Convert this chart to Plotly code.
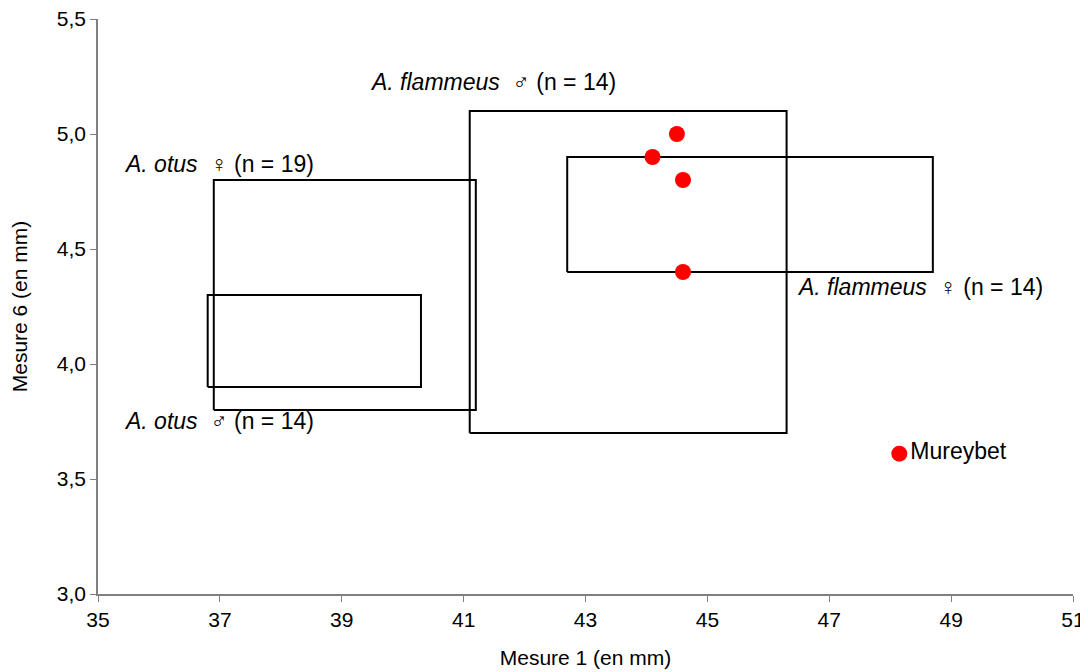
import plotly.graph_objects as go

# Rectangles: (x0, x1, y0, y1) ranges per group
box_names = ["A. otus ♀", "A. otus ♂", "A. flammeus ♂", "A. flammeus ♀"]
box_x0 = [36.9, 36.8, 41.1, 42.7]
box_x1 = [41.2, 40.3, 46.3, 48.7]
box_y0 = [3.8, 3.9, 3.7, 4.4]
box_y1 = [4.8, 4.3, 5.1, 4.9]

# Fossil points
pts_x = [44.5, 44.1, 44.6, 44.6]
pts_y = [5.0, 4.9, 4.8, 4.4]
mureybet_x = [48.15]
mureybet_y = [3.61]

# Labels
lab_text = ["<i>A. otus</i>  ♀ (n = 19)", "<i>A. otus</i>  ♂ (n = 14)",
            "<i>A. flammeus</i>  ♂ (n = 14)", "<i>A. flammeus</i>  ♀ (n = 14)"]
lab_x = [35.39, 35.39, 39.43, 46.44]
lab_y = [4.87, 3.752, 5.226, 4.335]

FONT = "Liberation Sans, Arial, sans-serif"
fig = go.Figure()

for x0, x1, y0, y1 in zip(box_x0, box_x1, box_y0, box_y1):
    fig.add_trace(go.Scatter(x=[x0, x1, x1, x0, x0], y=[y0, y0, y1, y1, y0],
                             mode="lines", line=dict(color="black", width=2),
                             showlegend=False, hoverinfo="skip"))

fig.add_trace(go.Scatter(x=pts_x, y=pts_y, mode="markers",
                         marker=dict(color="#ff0000", size=16), showlegend=False))
fig.add_trace(go.Scatter(x=mureybet_x, y=mureybet_y, mode="markers+text",
                         text=["Mureybet"], textposition="middle right",
                         textfont=dict(family=FONT, size=23, color="black"),
                         marker=dict(color="#ff0000", size=16), showlegend=False))

for t, x, y in zip(lab_text, lab_x, lab_y):
    fig.add_annotation(x=x, y=y, text=t, showarrow=False, xanchor="left",
                       yanchor="middle", font=dict(family=FONT, size=23, color="black"))

fig.update_layout(
    width=1080, height=664,
    margin=dict(l=90, r=15, t=11, b=78),
    paper_bgcolor="white", plot_bgcolor="white",
    separators=", ",
    font=dict(family=FONT, size=21, color="black"),
    xaxis=dict(range=[35, 51], tickmode="linear", tick0=35, dtick=2,
               automargin=False, ticklabeloverflow="allow",
               showgrid=False, zeroline=False, showline=True, linecolor="#808080",
               linewidth=1.5, ticks="outside", ticklen=6, tickcolor="#808080",
               tickfont=dict(size=21),
               title=dict(text="Mesure 1 (en mm)", standoff=20,
                          font=dict(size=21))),
    yaxis=dict(range=[3.0, 5.5], tickmode="linear", tick0=3.0, dtick=0.5,
               automargin=False, ticklabeloverflow="allow",
               tickformat=".1f", showgrid=False, zeroline=False, showline=True,
               linecolor="#808080", linewidth=1.5, ticks="outside", ticklen=6,
               tickcolor="#808080", tickfont=dict(size=21),
               title=dict(text="Mesure 6 (en mm)", standoff=26,
                          font=dict(size=21))),
)

fig.write_html("out.html")
